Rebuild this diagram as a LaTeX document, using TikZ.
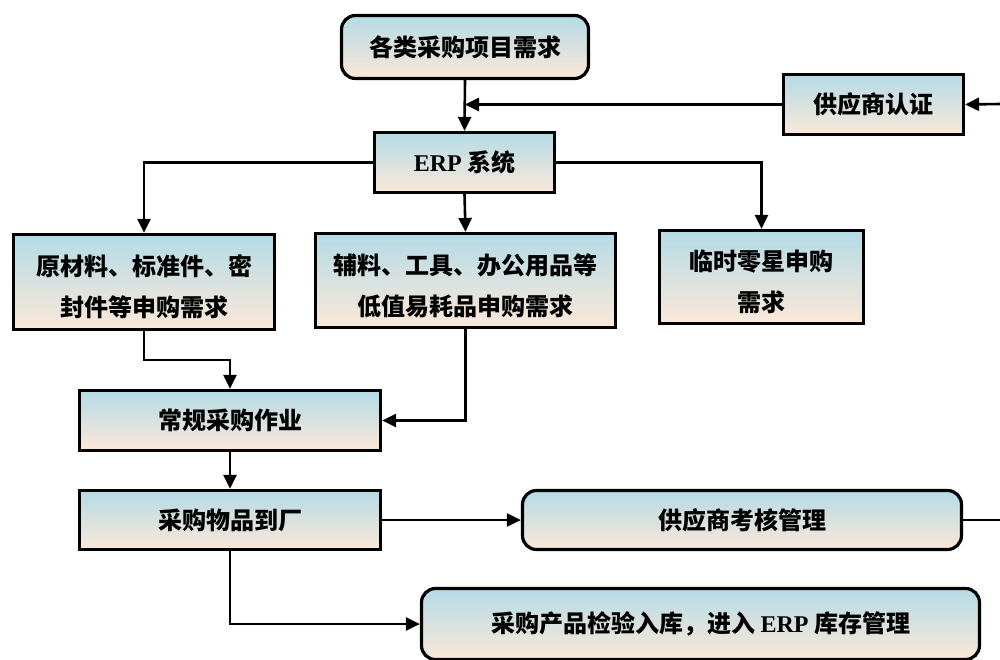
\documentclass[tikz,border=0pt]{standalone}
\usepackage{fontspec}
\setmainfont{Noto Sans CJK SC}
\newfontfamily\lat{Liberation Serif}
\usetikzlibrary{arrows.meta}
\definecolor{topc}{HTML}{B4DBE6}
\definecolor{botc}{HTML}{FCE8D9}
\newcommand{\upstrut}{\rule{0pt}{31pt}}
\begin{document}
\begin{tikzpicture}[x=1pt,y=-1pt,
  box/.style={draw=black, line width=3.2pt, top color=topc, bottom color=botc,
    font=\fontsize{24}{41}\selectfont\bfseries, align=center, inner sep=0pt},
  rbox/.style={box, rounded corners=14pt},
  conn/.style={line width=2.6pt},
  arr/.style={conn, -{Triangle[length=14pt,width=13pt]}}]
\useasboundingbox (0,0) rectangle (1000,659);
\clip (0,0) rectangle (1000,659);
\fill[white] (0,0) rectangle (1000,659);
\node[rbox, minimum width=247pt, minimum height=63pt] (need) at (465,47) {各类采购项目需求};
\node[box, minimum width=180pt, minimum height=60pt] (cert) at (873.5,104.5) {供应商认证};
\node[box, minimum width=180pt, minimum height=60pt] (erp) at (464.5,162.5) {{\lat\bfseries ERP} 系统};
\node[box, minimum width=261pt, minimum height=95pt] (raw) at (144,282) {\upstrut 原材料、标准件、密\\封件等申购需求};
\node[box, minimum width=300pt, minimum height=94pt] (aux) at (465.5,280.5) {\upstrut 辅料、工具、办公用品等\\低值易耗品申购需求};
\node[box, minimum width=204pt, minimum height=93pt] (temp) at (761.5,277) {\upstrut 临时零星申购\\需求};
\node[box, minimum width=301pt, minimum height=60pt] (routine) at (230,420.5) {常规采购作业};
\node[box, minimum width=301pt, minimum height=59pt] (arrive) at (230,520) {采购物品到厂};
\node[rbox, minimum width=439pt, minimum height=59pt] (eval) at (742,520) {供应商考核管理};
\node[rbox, minimum width=558pt, minimum height=71pt] (store) at (700.5,624) {采购产品检验入库，进入 {\lat\bfseries ERP} 库存管理};
\coordinate (rin) at (1000,104);
\coordinate (rout) at (1000,520);
\draw[arr] (rin) -- (cert.east);
\draw[arr] (cert.west) -- (need.south |- cert.west);
\draw[arr] (need.south) -- (erp.north);
\draw[arr] (erp.west) -| (raw.north);
\draw[arr] (erp.south) -- (aux.north);
\draw[arr] (erp.east) -| (temp.north);
\draw[arr] (raw.south) -- ++(0,29) -| (routine.north);
\draw[arr] (aux.south) |- (routine.east);
\draw[arr] (routine.south) -- (arrive.north);
\draw[arr] (arrive.east) -- (eval.west);
\draw[conn] (eval.east) -- (rout);
\draw[arr] (arrive.south) |- (store.west);
\end{tikzpicture}
\end{document}
